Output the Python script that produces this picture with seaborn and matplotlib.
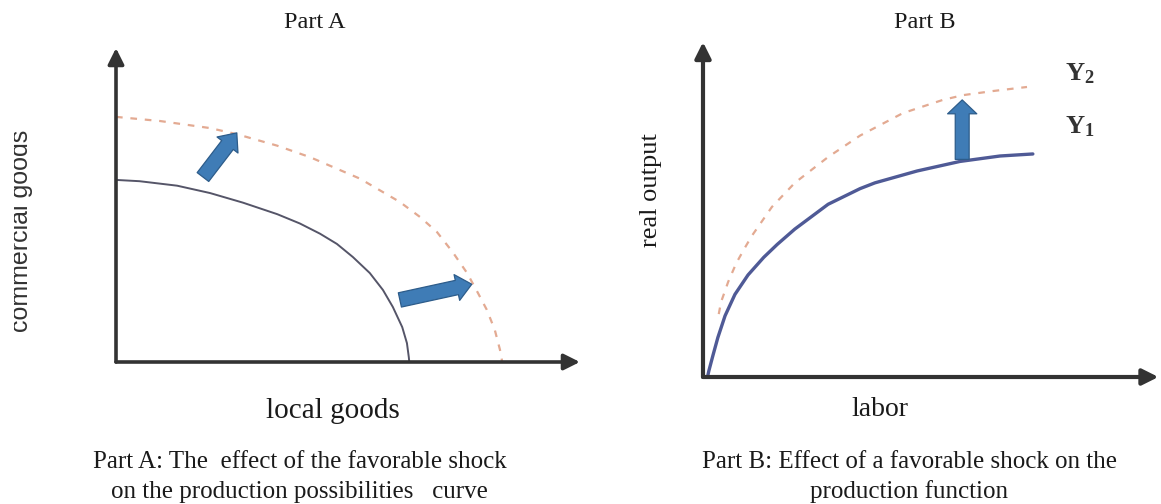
import matplotlib
matplotlib.use('Agg')
import pandas as pd
import matplotlib.pyplot as plt
from matplotlib.patches import Rectangle
import seaborn as sns

# Part A: production possibilities curves (axes units 0-100)
ppc_old_x = [0, 5, 13.0, 20.0, 27.0, 34.3, 39.1, 43.4, 47.0, 50.4, 54.0, 56.8, 58.9, 60.9, 61.9, 62.3, 62.4]
ppc_old_y = [56.9, 56.5, 55.1, 52.8, 49.8, 46.2, 43.3, 40.1, 36.9, 32.8, 27.8, 22.5, 17.2, 10.9, 5.9, 1.5, 0]
ppc_new_x = [0, 9.4, 20.0, 25.7, 34.3, 41.3, 51.9, 60.4, 64.7, 68.3, 71.7, 74.7, 77.0, 78.9, 80.6, 81.7, 82.1, 82.2]
ppc_new_y = [76.6, 75.3, 73.1, 71.2, 67.6, 64.0, 57.3, 50.0, 45.3, 40.6, 34.2, 27.8, 21.6, 16.3, 10.0, 3.8, 0.6, 0]
# shift arrows in part A: (tail x, tail y, tip x, tip y)
shift_a = [(18.5, 57.8, 25.7, 71.6), (60.4, 19.4, 75.7, 24.3)]

# Part B: production functions
y1_x = [1.0, 1.3, 2.2, 3.3, 4.9, 7.1, 10.0, 13.5, 16.5, 20.4, 27.8, 34.9, 38.2, 47.6, 57.1, 66.0, 73.3]
y1_y = [0, 1.8, 6.3, 11.6, 18.0, 24.3, 30.0, 35.2, 39.0, 43.5, 50.8, 55.4, 57.1, 60.6, 63.4, 65.0, 65.6]
y2_x = [3.5, 4.0, 5.6, 7.4, 9.3, 10.9, 15.3, 20.4, 27.8, 34.9, 44.4, 53.3, 57.8, 64.4, 72.0]
y2_y = [18.5, 22.0, 28.0, 33.5, 38.0, 41.6, 50.0, 57.1, 64.7, 71.0, 77.6, 81.5, 82.9, 84.1, 85.3]
shift_b = [(57.6, 64.0, 57.6, 81.5)]

sns.set_theme(style='white')
plt.rcParams['font.family'] = ['Liberation Serif', 'DejaVu Serif']
plt.rcParams['mathtext.fontset'] = 'custom'
plt.rcParams['mathtext.rm'] = 'Liberation Serif'
plt.rcParams['mathtext.bf'] = 'Liberation Serif:bold'

W, H = 1161, 504
fig = plt.figure(figsize=(W / 100, H / 100), dpi=100)


def box(left, top, right, bottom):
    return [left / W, 1 - bottom / H, (right - left) / W, (bottom - top) / H]


def ftext(px, py, s, **kw):
    return fig.text(px / W, 1 - py / H, s, ha=kw.pop('ha', 'center'), va=kw.pop('va', 'center'),
                    color=kw.pop('color', '#1a1a1a'), **kw)


def axis_arrows(ax, xtip, ytip, lw):
    for tip in [(xtip, 0), (0, ytip)]:
        ax.annotate('', xy=tip, xytext=(0, 0), annotation_clip=False,
                    arrowprops=dict(arrowstyle='-|>', color='#333333', lw=lw,
                                    mutation_scale=24, shrinkA=0, shrinkB=0))


def block_arrows(ax, arrows, hl, hw, tw):
    for x0, y0, x1, y1 in arrows:
        ax.annotate('', xy=(x1, y1), xytext=(x0, y0), annotation_clip=False,
                    arrowprops=dict(arrowstyle=f'simple,head_length={hl},head_width={hw},tail_width={tw}',
                                    fc='#3f7cb6', ec='#2d5c8a', lw=0.9,
                                    mutation_scale=10, shrinkA=0, shrinkB=0))


# ---- Part A ----
axA = fig.add_axes(box(116, 42, 586, 362))
axA.set_xlim(0, 100)
axA.set_ylim(0, 100)
axA.axis('off')
sns.lineplot(x=ppc_new_x, y=ppc_new_y, ax=axA, sort=False, estimator=None,
             color='#e3aa92', lw=1.6, linestyle=(0, (3, 3.5)))
sns.lineplot(x=ppc_old_x, y=ppc_old_y, ax=axA, sort=False, estimator=None,
             color='#555568', lw=1.4, solid_joinstyle='round')
axis_arrows(axA, 98.7, 98.1, 2.6)
block_arrows(axA, shift_a, 1.1, 1.9, 1.05)

# ---- Part B ----
axB = fig.add_axes(box(703, 37, 1153, 377))
axB.set_xlim(0, 100)
axB.set_ylim(0, 100)
axB.axis('off')
sns.lineplot(x=y2_x, y=y2_y, ax=axB, sort=False, estimator=None,
             color='#e3aa92', lw=1.6, linestyle=(0, (3, 3.5)))
sns.lineplot(x=y1_x, y=y1_y, ax=axB, sort=False, estimator=None,
             color='#4f5a96', lw=2.4, solid_joinstyle='round')
axis_arrows(axB, 101.2, 98.5, 3.0)
block_arrows(axB, shift_b, 1.0, 2.1, 1.0)

# ---- text ----
ftext(315, 22, 'Part A', fontsize=17.5)
ftext(925, 22, 'Part B', fontsize=17.5)
ftext(333, 411, 'local goods', fontsize=21)
ftext(880, 410, 'labor', fontsize=20)
# y label of part A is cut by the left edge of the picture
ylab = ftext(28, 231, 'commercial goods', rotation=90, rotation_mode='anchor',
             va='baseline', fontsize=18, family=['Liberation Sans', 'DejaVu Sans'], color='#333333')
ylab.set_clip_path(Rectangle((14 / W, 0), 1, 1, transform=fig.transFigure))
ftext(662, 190, 'real output', rotation=90, ha='right', fontsize=19)
ftext(1080, 74, r'$\mathbf{Y_2}$', fontsize=19, color='#333333')
ftext(1080, 127, r'$\mathbf{Y_1}$', fontsize=19, color='#333333')
ftext(300, 462, 'Part A: The  effect of the favorable shock', fontsize=18)
ftext(299, 492, 'on the production possibilities   curve', fontsize=18)
ftext(910, 462, 'Part B: Effect of a favorable shock on the', fontsize=18)
ftext(909, 492, 'production function', fontsize=18)

fig.savefig('out.png', dpi=100)
